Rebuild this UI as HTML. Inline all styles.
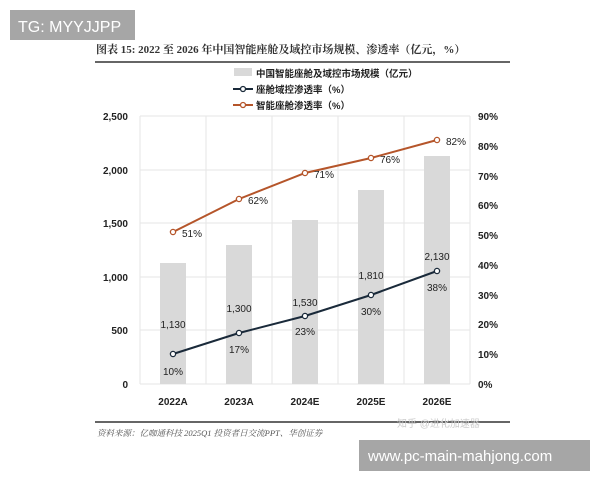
<!DOCTYPE html>
<html><head><meta charset="utf-8"><style>
body{margin:0;background:#fff;width:600px;height:480px;overflow:hidden;font-family:"Liberation Sans","Noto Sans CJK SC",sans-serif}
</style></head><body>
<svg width="600" height="480" xmlns="http://www.w3.org/2000/svg" font-family="Liberation Sans, Noto Sans CJK SC, sans-serif">
<rect x="10" y="10" width="125" height="30" fill="#a6a6a6"/>
<text x="18" y="32" font-size="16" fill="#fff">TG: MYYJJPP</text>
<text x="96" y="53" font-size="11" font-weight="bold" fill="#333" font-family="Liberation Serif, Noto Serif CJK SC, serif">图表 15:  2022 至 2026 年中国智能座舱及域控市场规模、渗透率（亿元，%）</text>
<line x1="95" y1="62" x2="510" y2="62" stroke="#333" stroke-width="1.5"/>
<rect x="234" y="68" width="18" height="8" fill="#d9d9d9"/>
<text x="256" y="77" font-size="9.5" font-weight="bold" fill="#222">中国智能座舱及域控市场规模（亿元）</text>
<line x1="233" y1="89" x2="253" y2="89" stroke="#1a2a3a" stroke-width="2"/><circle cx="243" cy="89" r="2.5" fill="#fff" stroke="#1a2a3a" stroke-width="1.3"/>
<text x="256" y="93" font-size="9.5" font-weight="bold" fill="#222">座舱域控渗透率（%）</text>
<line x1="233" y1="105" x2="253" y2="105" stroke="#b5552a" stroke-width="2"/><circle cx="243" cy="105" r="2.5" fill="#fff" stroke="#b5552a" stroke-width="1.3"/>
<text x="256" y="109" font-size="9.5" font-weight="bold" fill="#222">智能座舱渗透率（%）</text>
<g stroke="#e6e6e6" stroke-width="1">
<line x1="140" y1="116" x2="470" y2="116"/><line x1="140" y1="170" x2="470" y2="170"/><line x1="140" y1="223" x2="470" y2="223"/><line x1="140" y1="277" x2="470" y2="277"/><line x1="140" y1="330" x2="470" y2="330"/><line x1="140" y1="384" x2="470" y2="384"/>
<line x1="140" y1="116" x2="140" y2="384"/><line x1="206" y1="116" x2="206" y2="384"/><line x1="272" y1="116" x2="272" y2="384"/><line x1="338" y1="116" x2="338" y2="384"/><line x1="404" y1="116" x2="404" y2="384"/><line x1="470" y1="116" x2="470" y2="384"/>
</g>
<g fill="#d9d9d9">
<rect x="160" y="263" width="26" height="121"/><rect x="226" y="245" width="26" height="139"/><rect x="292" y="220" width="26" height="164"/><rect x="358" y="190" width="26" height="194"/><rect x="424" y="156" width="26" height="228"/>
</g>
<g font-size="10" font-weight="bold" fill="#222" text-anchor="end">
<text x="128" y="120">2,500</text><text x="128" y="174">2,000</text><text x="128" y="227">1,500</text><text x="128" y="281">1,000</text><text x="128" y="334">500</text><text x="128" y="388">0</text>
</g>
<g font-size="10" font-weight="bold" fill="#222">
<text x="478" y="120">90%</text><text x="478" y="150">80%</text><text x="478" y="180">70%</text><text x="478" y="209">60%</text><text x="478" y="239">50%</text><text x="478" y="269">40%</text><text x="478" y="299">30%</text><text x="478" y="328">20%</text><text x="478" y="358">10%</text><text x="478" y="388">0%</text>
</g>
<g font-size="10" font-weight="bold" fill="#222" text-anchor="middle">
<text x="173" y="405">2022A</text><text x="239" y="405">2023A</text><text x="305" y="405">2024E</text><text x="371" y="405">2025E</text><text x="437" y="405">2026E</text>
</g>
<polyline points="173,232 239,199 305,173 371,158 437,140" fill="none" stroke="#b5552a" stroke-width="2"/>
<g fill="#fff" stroke="#b5552a" stroke-width="1.3"><circle cx="173" cy="232" r="2.6"/><circle cx="239" cy="199" r="2.6"/><circle cx="305" cy="173" r="2.6"/><circle cx="371" cy="158" r="2.6"/><circle cx="437" cy="140" r="2.6"/></g>
<polyline points="173,354 239,333 305,316 371,295 437,271" fill="none" stroke="#1a2a3a" stroke-width="2"/>
<g fill="#fff" stroke="#1a2a3a" stroke-width="1.3"><circle cx="173" cy="354" r="2.6"/><circle cx="239" cy="333" r="2.6"/><circle cx="305" cy="316" r="2.6"/><circle cx="371" cy="295" r="2.6"/><circle cx="437" cy="271" r="2.6"/></g>
<g font-size="10" fill="#222">
<text x="182" y="237">51%</text><text x="248" y="204">62%</text><text x="314" y="178">71%</text><text x="380" y="163">76%</text><text x="446" y="145">82%</text>
</g>
<g font-size="10" fill="#222" text-anchor="middle">
<text x="173" y="328">1,130</text><text x="239" y="312">1,300</text><text x="305" y="306">1,530</text><text x="371" y="279">1,810</text><text x="437" y="260">2,130</text>
<text x="173" y="375">10%</text><text x="239" y="353">17%</text><text x="305" y="335">23%</text><text x="371" y="315">30%</text><text x="437" y="291">38%</text>
</g>
<line x1="95" y1="422" x2="510" y2="422" stroke="#333" stroke-width="1.5"/>
<text x="97" y="436" font-size="8.5" font-style="italic" fill="#555" font-family="Liberation Serif, Noto Serif CJK SC, serif">资料来源：亿咖通科技 2025Q1 投资者日交流PPT、华创证券</text>
<text x="397" y="427" font-size="10" fill="#ccc">知乎 @进化加速器</text>
<rect x="359" y="440" width="231" height="31" fill="#a6a6a6"/>
<text x="368" y="461" font-size="15" fill="#fff">www.pc-main-mahjong.com</text>
</svg>
</body></html>
